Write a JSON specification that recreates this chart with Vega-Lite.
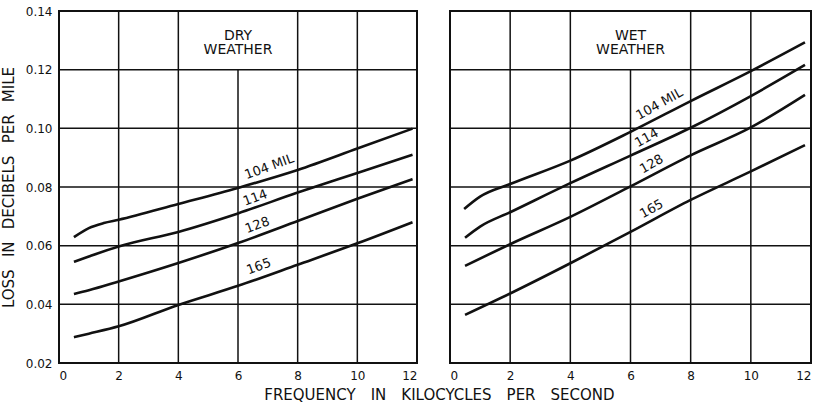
{
  "$schema": "https://vega.github.io/schema/vega-lite/v6.json",
  "background": "white",
  "padding": {"left": 0, "top": 4, "right": 0, "bottom": 0},
  "title": {"text": "FREQUENCY\u2003IN\u2003KILOCYCLES\u2003PER\u2003SECOND", "orient": "bottom", "anchor": "start", "frame": "bounds", "offset": 6, "dx": 264, "fontSize": 15, "fontWeight": "normal", "font": "DejaVu Sans", "color": "#111"},
  "config": {
    "view": {"stroke": "#111", "strokeWidth": 2},
    "font": "DejaVu Sans",
    "axis": {"labelFont": "DejaVu Sans", "titleFont": "DejaVu Sans", "labelColor": "#111", "titleColor": "#111", "titleFontWeight": "normal"}
  },
  "datasets": {
    "curves": [
      {"panel": "dry", "cable": "104", "x": 0.5, "y": 0.0629},
      {"panel": "dry", "cable": "104", "x": 1, "y": 0.0660},
      {"panel": "dry", "cable": "104", "x": 1.5, "y": 0.0677},
      {"panel": "dry", "cable": "104", "x": 2, "y": 0.0688},
      {"panel": "dry", "cable": "104", "x": 4, "y": 0.0742},
      {"panel": "dry", "cable": "104", "x": 6, "y": 0.0797},
      {"panel": "dry", "cable": "104", "x": 8, "y": 0.0858},
      {"panel": "dry", "cable": "104", "x": 10, "y": 0.0931},
      {"panel": "dry", "cable": "104", "x": 11.85, "y": 0.0999},
      {"panel": "dry", "cable": "114", "x": 0.5, "y": 0.0545},
      {"panel": "dry", "cable": "114", "x": 1, "y": 0.0563},
      {"panel": "dry", "cable": "114", "x": 2, "y": 0.0597},
      {"panel": "dry", "cable": "114", "x": 4, "y": 0.0647},
      {"panel": "dry", "cable": "114", "x": 6, "y": 0.0710},
      {"panel": "dry", "cable": "114", "x": 8, "y": 0.0781},
      {"panel": "dry", "cable": "114", "x": 10, "y": 0.0848},
      {"panel": "dry", "cable": "114", "x": 11.85, "y": 0.0910},
      {"panel": "dry", "cable": "128", "x": 0.5, "y": 0.0435},
      {"panel": "dry", "cable": "128", "x": 1, "y": 0.0448},
      {"panel": "dry", "cable": "128", "x": 2, "y": 0.0478},
      {"panel": "dry", "cable": "128", "x": 4, "y": 0.0541},
      {"panel": "dry", "cable": "128", "x": 6, "y": 0.0609},
      {"panel": "dry", "cable": "128", "x": 8, "y": 0.0684},
      {"panel": "dry", "cable": "128", "x": 10, "y": 0.0760},
      {"panel": "dry", "cable": "128", "x": 11.85, "y": 0.0827},
      {"panel": "dry", "cable": "165", "x": 0.5, "y": 0.0288},
      {"panel": "dry", "cable": "165", "x": 1, "y": 0.0300},
      {"panel": "dry", "cable": "165", "x": 2, "y": 0.0325},
      {"panel": "dry", "cable": "165", "x": 4, "y": 0.0398},
      {"panel": "dry", "cable": "165", "x": 6, "y": 0.0463},
      {"panel": "dry", "cable": "165", "x": 8, "y": 0.0535},
      {"panel": "dry", "cable": "165", "x": 10, "y": 0.0608},
      {"panel": "dry", "cable": "165", "x": 11.85, "y": 0.0680},
      {"panel": "wet", "cable": "104", "x": 0.47, "y": 0.0725},
      {"panel": "wet", "cable": "104", "x": 1, "y": 0.0767},
      {"panel": "wet", "cable": "104", "x": 2, "y": 0.0810},
      {"panel": "wet", "cable": "104", "x": 4, "y": 0.0890},
      {"panel": "wet", "cable": "104", "x": 6, "y": 0.0988},
      {"panel": "wet", "cable": "104", "x": 8, "y": 0.1093},
      {"panel": "wet", "cable": "104", "x": 10, "y": 0.1195},
      {"panel": "wet", "cable": "104", "x": 11.8, "y": 0.1293},
      {"panel": "wet", "cable": "114", "x": 0.5, "y": 0.0627},
      {"panel": "wet", "cable": "114", "x": 1, "y": 0.0665},
      {"panel": "wet", "cable": "114", "x": 2, "y": 0.0714},
      {"panel": "wet", "cable": "114", "x": 4, "y": 0.0813},
      {"panel": "wet", "cable": "114", "x": 6, "y": 0.0907},
      {"panel": "wet", "cable": "114", "x": 8, "y": 0.1002},
      {"panel": "wet", "cable": "114", "x": 10, "y": 0.1110},
      {"panel": "wet", "cable": "114", "x": 11.8, "y": 0.1216},
      {"panel": "wet", "cable": "128", "x": 0.5, "y": 0.0531},
      {"panel": "wet", "cable": "128", "x": 2, "y": 0.0605},
      {"panel": "wet", "cable": "128", "x": 4, "y": 0.0698},
      {"panel": "wet", "cable": "128", "x": 6, "y": 0.0802},
      {"panel": "wet", "cable": "128", "x": 8, "y": 0.0908},
      {"panel": "wet", "cable": "128", "x": 10, "y": 0.1003},
      {"panel": "wet", "cable": "128", "x": 11.8, "y": 0.1114},
      {"panel": "wet", "cable": "165", "x": 0.5, "y": 0.0364},
      {"panel": "wet", "cable": "165", "x": 2, "y": 0.0437},
      {"panel": "wet", "cable": "165", "x": 4, "y": 0.0540},
      {"panel": "wet", "cable": "165", "x": 6, "y": 0.0647},
      {"panel": "wet", "cable": "165", "x": 8, "y": 0.0756},
      {"panel": "wet", "cable": "165", "x": 10, "y": 0.0853},
      {"panel": "wet", "cable": "165", "x": 11.8, "y": 0.0943}
    ],
    "labels": [
      {"panel": "dry", "text": "104 MIL", "x": 7.05, "y": 0.0869},
      {"panel": "dry", "text": "114", "x": 6.58, "y": 0.0763},
      {"panel": "dry", "text": "128", "x": 6.65, "y": 0.0670},
      {"panel": "dry", "text": "165", "x": 6.7, "y": 0.0529},
      {"panel": "wet", "text": "104 MIL", "x": 6.96, "y": 0.1083},
      {"panel": "wet", "text": "114", "x": 6.54, "y": 0.0967},
      {"panel": "wet", "text": "128", "x": 6.7, "y": 0.0878},
      {"panel": "wet", "text": "165", "x": 6.7, "y": 0.0725}
    ],
    "titles": [
      {"panel": "dry", "text": "DRY", "x": 6, "y": 0.1315},
      {"panel": "dry", "text": "WEATHER", "x": 6, "y": 0.1266},
      {"panel": "wet", "text": "WET", "x": 6, "y": 0.1315},
      {"panel": "wet", "text": "WEATHER", "x": 6, "y": 0.1266}
    ],
    "grid": [
      {"x1": 2, "x2": 2, "y1": 0.02, "y2": 0.14},
      {"x1": 4, "x2": 4, "y1": 0.02, "y2": 0.14},
      {"x1": 6, "x2": 6, "y1": 0.02, "y2": 0.12},
      {"x1": 8, "x2": 8, "y1": 0.02, "y2": 0.14},
      {"x1": 10, "x2": 10, "y1": 0.02, "y2": 0.14},
      {"x1": 0, "x2": 12, "y1": 0.04, "y2": 0.04},
      {"x1": 0, "x2": 12, "y1": 0.06, "y2": 0.06},
      {"x1": 0, "x2": 12, "y1": 0.08, "y2": 0.08},
      {"x1": 0, "x2": 12, "y1": 0.10, "y2": 0.10},
      {"x1": 0, "x2": 12, "y1": 0.12, "y2": 0.12}
    ]
  },
  "spacing": 29,
  "hconcat": [
    {
      "width": 358,
      "height": 352,
      "layer": [
        {
          "data": {"name": "grid"},
          "mark": {"type": "rule", "color": "#111", "strokeWidth": 1.5},
          "encoding": {
            "x": {"field": "x1", "type": "quantitative", "scale": {"domain": [0, 12], "nice": false, "zero": false},
              "axis": {"values": [0, 2, 4, 6, 8, 10, 12], "grid": false, "ticks": false, "domain": false, "labelFontSize": 12, "labelPadding": 7, "title": null}},
            "x2": {"field": "x2"},
            "y": {"field": "y1", "type": "quantitative", "scale": {"domain": [0.02, 0.14], "nice": false, "zero": false},
              "axis": {"values": [0.02, 0.04, 0.06, 0.08, 0.10, 0.12, 0.14], "format": ".2f", "grid": false, "ticks": false, "domain": false, "labelFontSize": 12, "labelPadding": 7,
                "title": "LOSS\u2002 IN\u2002 DECIBELS\u2002 PER\u2002 MILE", "titleFontSize": 15, "titlePadding": 9}},
            "y2": {"field": "y2"}
          }
        },
        {
          "data": {"name": "curves"},
          "transform": [{"filter": "datum.panel === 'dry'"}],
          "mark": {"type": "line", "color": "#111", "strokeWidth": 2.6, "interpolate": "monotone"},
          "encoding": {
            "x": {"field": "x", "type": "quantitative"},
            "y": {"field": "y", "type": "quantitative"},
            "detail": {"field": "cable"}
          }
        },
        {
          "data": {"name": "labels"},
          "transform": [{"filter": "datum.panel === 'dry'"}],
          "mark": {"type": "text", "color": "#111", "fontSize": 13, "angle": 340, "align": "center", "baseline": "middle"},
          "encoding": {
            "x": {"field": "x", "type": "quantitative"},
            "y": {"field": "y", "type": "quantitative"},
            "text": {"field": "text"}
          }
        },
        {
          "data": {"name": "titles"},
          "transform": [{"filter": "datum.panel === 'dry'"}],
          "mark": {"type": "text", "color": "#111", "fontSize": 14, "align": "center", "baseline": "middle"},
          "encoding": {
            "x": {"field": "x", "type": "quantitative"},
            "y": {"field": "y", "type": "quantitative"},
            "text": {"field": "text"}
          }
        }
      ]
    },
    {
      "width": 361,
      "height": 352,
      "layer": [
        {
          "data": {"name": "grid"},
          "mark": {"type": "rule", "color": "#111", "strokeWidth": 1.5},
          "encoding": {
            "x": {"field": "x1", "type": "quantitative", "scale": {"domain": [0, 12], "nice": false, "zero": false},
              "axis": {"values": [0, 2, 4, 6, 8, 10, 12], "grid": false, "ticks": false, "domain": false, "labelFontSize": 12, "labelPadding": 7, "title": null}},
            "x2": {"field": "x2"},
            "y": {"field": "y1", "type": "quantitative", "scale": {"domain": [0.02, 0.14], "nice": false, "zero": false}, "axis": null},
            "y2": {"field": "y2"}
          }
        },
        {
          "data": {"name": "curves"},
          "transform": [{"filter": "datum.panel === 'wet'"}],
          "mark": {"type": "line", "color": "#111", "strokeWidth": 2.6, "interpolate": "monotone"},
          "encoding": {
            "x": {"field": "x", "type": "quantitative"},
            "y": {"field": "y", "type": "quantitative"},
            "detail": {"field": "cable"}
          }
        },
        {
          "data": {"name": "labels"},
          "transform": [{"filter": "datum.panel === 'wet'"}],
          "mark": {"type": "text", "color": "#111", "fontSize": 13, "angle": 331, "align": "center", "baseline": "middle"},
          "encoding": {
            "x": {"field": "x", "type": "quantitative"},
            "y": {"field": "y", "type": "quantitative"},
            "text": {"field": "text"}
          }
        },
        {
          "data": {"name": "titles"},
          "transform": [{"filter": "datum.panel === 'wet'"}],
          "mark": {"type": "text", "color": "#111", "fontSize": 14, "align": "center", "baseline": "middle"},
          "encoding": {
            "x": {"field": "x", "type": "quantitative"},
            "y": {"field": "y", "type": "quantitative"},
            "text": {"field": "text"}
          }
        }
      ]
    }
  ]
}
